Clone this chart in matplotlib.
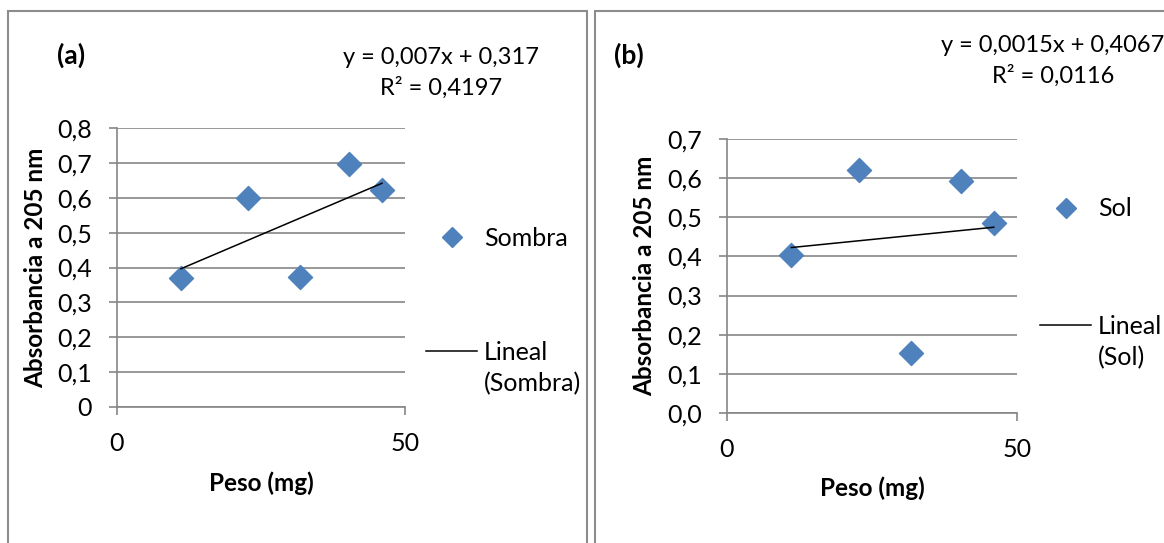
import numpy as np
import matplotlib.pyplot as plt
from matplotlib.patches import Rectangle
from matplotlib.lines import Line2D

plt.rcParams['font.family'] = ['Lato', 'DejaVu Sans']

# values
peso = [11.1, 22.8, 31.8, 40.3, 46.0]
sombra = [0.370, 0.598, 0.373, 0.698, 0.621]
sol = [0.404, 0.621, 0.153, 0.593, 0.486]

yticks_a = [0, 0.1, 0.2, 0.3, 0.4, 0.5, 0.6, 0.7, 0.8]
ylabels_a = ['0', '0,1', '0,2', '0,3', '0,4', '0,5', '0,6', '0,7', '0,8']
yticks_b = [0, 0.1, 0.2, 0.3, 0.4, 0.5, 0.6, 0.7]
ylabels_b = ['0,0', '0,1', '0,2', '0,3', '0,4', '0,5', '0,6', '0,7']
xticks = [0, 50]

eq_a = ['y = 0,007x + 0,317', 'R² = 0,4197']
eq_b = ['y = 0,0015x + 0,4067', 'R² = 0,0116']

W, H = 1164, 543
BLUE = '#4F81BD'
GRID = '#868686'
TICK = 18
LEG = 18
EQ = 17
LAB = 17.5


def fx(px):
    return px / W


def fy(py):
    return 1 - py / H


def box(l, t, r, b):
    return [fx(l), fy(b), fx(r) - fx(l), fy(t) - fy(b)]


fig = plt.figure(figsize=(W / 100, H / 100), dpi=100)

# outer frames of the two charts
for l, r in [(8, 587), (595, 1175)]:
    fig.add_artist(Rectangle((fx(l), fy(560)), fx(r) - fx(l), fy(11) - fy(560),
                             transform=fig.transFigure, fill=False,
                             edgecolor='#8c8c8c', lw=1.5))


def panel(rect, y, yticks, ylabels, tag, tag_xy, eq, eq_xy, name,
          leg_x, leg_y1, leg_y2, ylab_x):
    ax = fig.add_axes(rect)
    ax.set_xlim(0, 50)
    ax.set_ylim(0, yticks[-1])

    ax.scatter(peso, y, marker='D', s=150, color=BLUE, zorder=3, clip_on=False)
    k, c = np.polyfit(peso, y, 1)
    xs = np.array([min(peso), max(peso)])
    ax.plot(xs, k * xs + c, color='black', lw=1.1, zorder=4)

    ax.set_yticks(yticks)
    ax.set_yticklabels(ylabels)
    ax.set_xticks(xticks)
    ax.set_xticklabels([str(t) for t in xticks])
    ax.tick_params(axis='both', direction='out', length=6, width=1.2,
                   color=GRID, labelsize=TICK)
    ax.tick_params(axis='y', pad=12)
    ax.tick_params(axis='x', pad=12)
    ax.yaxis.grid(True, color=GRID, lw=1.2)
    ax.set_axisbelow(True)
    for s in ['top', 'right']:
        ax.spines[s].set_visible(False)
    for s in ['left', 'bottom']:
        ax.spines[s].set_color(GRID)
        ax.spines[s].set_linewidth(1.2)

    ax.set_ylabel('Absorbancia a 205 nm', fontsize=LAB, fontweight='bold',
                  va='center')
    ax.yaxis.set_label_coords(ylab_x, 0.5)
    ax.set_xlabel('Peso (mg)', fontsize=LAB, fontweight='bold', va='center')
    ax.xaxis.set_label_coords(0.5, -0.273)

    fig.text(fx(tag_xy[0]), fy(tag_xy[1]), tag, fontsize=19, fontweight='bold',
             ha='center', va='center')
    fig.text(fx(eq_xy[0]), fy(eq_xy[1]), eq[0], fontsize=EQ, ha='center', va='center')
    fig.text(fx(eq_xy[0]), fy(eq_xy[1] + 31), eq[1], fontsize=EQ, ha='center', va='center')

    hl = 51 * 0.72 / LEG
    hp = 7 * 0.72 / LEG
    h1 = Line2D([], [], marker='D', ls='none', color=BLUE, ms=10)
    h2 = Line2D([], [], color='black', lw=1.1)
    for h, lab, yy in [(h1, name, leg_y1), (h2, 'Lineal', leg_y2)]:
        fig.legend([h], [lab], loc='center left', frameon=False,
                   bbox_to_anchor=(fx(leg_x), fy(yy)), borderpad=0,
                   borderaxespad=0, handlelength=hl, handletextpad=hp,
                   fontsize=LEG)
    fig.text(fx(leg_x + 58), fy(leg_y2 + 32), '(' + name + ')', fontsize=LEG,
             ha='left', va='center')
    return ax


panel(box(117, 128, 405, 407), sombra, yticks_a, ylabels_a, '(a)', (71, 55),
      eq_a, (441, 57), 'Sombra', 426, 238, 352, -0.281)
panel(box(727, 139, 1017, 413), sol, yticks_b, ylabels_b, '(b)', (629, 55),
      eq_b, (1053, 45), 'Sol', 1040, 209, 326, -0.283)

fig.savefig('out.png', dpi=100)
